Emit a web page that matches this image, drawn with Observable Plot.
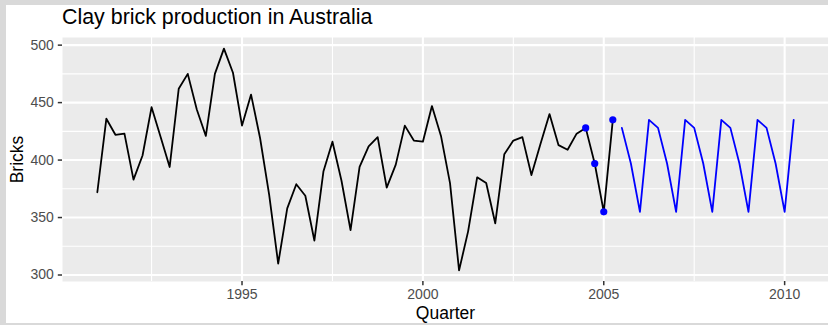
<!DOCTYPE html>
<html>
<head>
<meta charset="utf-8">
<script src="https://cdn.jsdelivr.net/npm/d3@7"></script>
<script src="https://cdn.jsdelivr.net/npm/@observablehq/plot@0.6"></script>
<style>
  html, body { margin: 0; padding: 0; }
  body {
    width: 828px; height: 325px; position: relative; overflow: hidden;
    background: #d9d9d9;
    font-family: "Liberation Sans", Arial, sans-serif;
  }
  #sheet { position: absolute; left: 6px; top: 5px; width: 822px; height: 317.5px; background: #ffffff; overflow: hidden; }
  #title { position: absolute; left: 56px; top: 1.6px; font-size: 21.4px; line-height: 20px; color: #000; white-space: nowrap; }
  #chart { position: absolute; left: 0; top: 25px; }
</style>
</head>
<body>
<div id="sheet">
  <div id="title">Clay brick production in Australia</div>
  <div id="chart"></div>
</div>
<script>
// Quarterly clay brick production (millions of bricks), 1991 Q1 – 2005 Q2
const firstYear = 1991;
const bricks = [
  372, 436, 422, 423,   // 1991
  383, 404, 446, 420,   // 1992
  394, 462, 475, 444,   // 1993
  421, 475, 497, 476,   // 1994
  430, 457, 419, 370,   // 1995
  310, 358, 379, 369,   // 1996
  330, 390, 416, 382,   // 1997
  339, 394, 412, 420,   // 1998
  376, 396, 430, 417,   // 1999
  416, 447, 421, 380,   // 2000
  304, 338, 385, 380,   // 2001
  345, 405, 417, 420,   // 2002
  387, 414, 440, 413,   // 2003
  409, 423, 428, 397,   // 2004
  355, 435              // 2005
];

// Seasonal naive forecasts, 2005 Q3 – 2010 Q2
const forecast = [
  428, 397, 355, 435,
  428, 397, 355, 435,
  428, 397, 355, 435,
  428, 397, 355, 435,
  428, 397, 355, 435
];

// Axis ticks
const xMajor = [1995, 2000, 2005, 2010];
const xMinor = [1992.5, 1997.5, 2002.5, 2007.5];
const yMajor = [300, 350, 400, 450, 500];
const yMinor = [325, 375, 425, 475];

// Quarter index -> decimal year (start of quarter)
const quarterTime = (i) => firstYear + i / 4;

const observed = bricks.map((value, i) => ({t: quarterTime(i), value}));
const future = forecast.map((value, i) => ({t: quarterTime(bricks.length + i), value}));
const lastSeason = observed.slice(-4);

const font = "Liberation Sans, Arial, sans-serif";

const chart = Plot.plot({
  width: 822,
  height: 292,
  marginLeft: 56,
  marginRight: 0,
  marginTop: 7,
  marginBottom: 41,
  style: {fontFamily: font, fontSize: "14px", background: "transparent", overflow: "visible"},
  x: {domain: [1990.0375, 2011.2125]},
  y: {domain: [294.35, 506.65]},
  marks: [
    Plot.frame({fill: "#ebebeb", stroke: null}),
    Plot.gridX(xMinor, {stroke: "#ffffff", strokeOpacity: 1, strokeWidth: 1.1}),
    Plot.gridY(yMinor, {stroke: "#ffffff", strokeOpacity: 1, strokeWidth: 1.1}),
    Plot.gridX(xMajor, {stroke: "#ffffff", strokeOpacity: 1, strokeWidth: 2.1}),
    Plot.gridY(yMajor, {stroke: "#ffffff", strokeOpacity: 1, strokeWidth: 2.1}),
    Plot.axisX(xMajor, {
      tickSize: 4.2, tickPadding: 3.4, stroke: "#333333", strokeWidth: 1.5,
      color: "#4d4d4d", fontSize: 14, tickFormat: (d) => String(d), label: null
    }),
    Plot.axisY(yMajor, {
      tickSize: 4.2, tickPadding: 4.4, stroke: "#333333", strokeWidth: 1.5,
      color: "#4d4d4d", fontSize: 14, tickFormat: (d) => String(d), label: null
    }),
    Plot.line(observed, {x: "t", y: "value", stroke: "#000000", strokeWidth: 1.8}),
    Plot.line(future, {x: "t", y: "value", stroke: "#0000ff", strokeWidth: 1.8}),
    Plot.dot(lastSeason, {x: "t", y: "value", fill: "#0000ff", stroke: null, r: 3.6}),
    Plot.text(["Quarter"], {
      text: (d) => d, frameAnchor: "bottom", textAnchor: "middle", lineAnchor: "middle",
      dy: 31.4, fontSize: 17.5, fill: "#000000"
    }),
    Plot.text(["Bricks"], {
      text: (d) => d, frameAnchor: "left", textAnchor: "middle", lineAnchor: "middle",
      rotate: -90, dx: -45.6, fontSize: 17.5, fill: "#000000"
    })
  ]
});

document.getElementById("chart").appendChild(chart);
</script>
</body>
</html>
